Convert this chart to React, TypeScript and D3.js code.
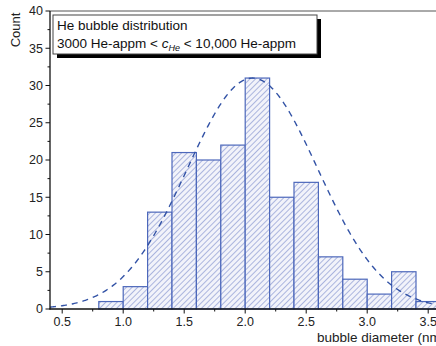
import React from "react";
import * as d3 from "d3";

// Histogram bins (left edge, nm) and counts
const binStarts = [0.8, 1.0, 1.2, 1.4, 1.6, 1.8, 2.0, 2.2, 2.4, 2.6, 2.8, 3.0, 3.2, 3.4];
const counts = [1, 3, 13, 21, 20, 22, 31, 15, 17, 7, 4, 2, 5, 1];
const binWidth = 0.2;

// Gaussian fit parameters
const fitCenter = 2.06;
const fitSigma = 0.535;
const fitAmplitude = 31.0;

const xTicks = [0.5, 1.0, 1.5, 2.0, 2.5, 3.0, 3.5];
const yTicks = [0, 5, 10, 15, 20, 25, 30, 35, 40];

const W = 436;
const H = 346;
const FONT = "'Liberation Sans', Arial, sans-serif";

export default function App() {
  const x = d3.scaleLinear().domain([0.4, 3.6]).range([50, 440.4]);
  const y = d3.scaleLinear().domain([0, 40]).range([309, 11]);

  const fitX = d3.range(0.4, 3.6001, 0.01);
  const gauss = (v: number) =>
    fitAmplitude * Math.exp(-((v - fitCenter) ** 2) / (2 * fitSigma * fitSigma));
  const line = d3
    .line<number>()
    .x((v) => x(v))
    .y((v) => y(gauss(v)))
    .curve(d3.curveLinear);

  const xMinor = d3.range(0.5, 3.6, 0.25);
  const yMinor = d3.range(0, 40.01, 2.5);

  return (
    <svg
      width={W}
      height={H}
      style={{ position: "absolute", left: 0, top: 0, background: "#fff" }}
    >
      <defs>
        <pattern
          id="hatch"
          patternUnits="userSpaceOnUse"
          width={4}
          height={4}
          patternTransform="rotate(45)"
        >
          <rect width={4} height={4} fill="#f2f3fa" />
          <line x1={0} y1={0} x2={0} y2={4} stroke="#8494cf" strokeWidth={1.3} />
        </pattern>
        <clipPath id="plotClip">
          <rect x={50} y={11} width={W - 50} height={298} />
        </clipPath>
      </defs>

      {/* bars */}
      <g>
        {binStarts.map((b, i) => (
          <rect
            key={i}
            x={x(b)}
            y={y(counts[i])}
            width={x(b + binWidth) - x(b)}
            height={y(0) - y(counts[i])}
            fill="url(#hatch)"
            stroke="#4d68bb"
            strokeWidth={1.2}
          />
        ))}
      </g>

      {/* fitted curve */}
      <path
        d={line(fitX) || ""}
        fill="none"
        stroke="#3353a6"
        strokeWidth={1.4}
        strokeDasharray="6,5"
        clipPath="url(#plotClip)"
      />

      {/* frame top */}
      <line x1={50} x2={W} y1={11} y2={11} stroke="#555" strokeWidth={1} />

      {/* left axis */}
      <line x1={50} x2={50} y1={11} y2={309.5} stroke="#111" strokeWidth={1.3} />
      {yMinor.map((v) => (
        <line
          key={"ym" + v}
          x1={50}
          x2={v % 5 === 0 ? 45.5 : 47.5}
          y1={y(v)}
          y2={y(v)}
          stroke="#111"
          strokeWidth={1}
        />
      ))}
      {yTicks.map((v) => (
        <text
          key={"yl" + v}
          x={43}
          y={y(v)}
          dy="0.35em"
          textAnchor="end"
          fontFamily={FONT}
          fontSize={12.5}
          fill="#222"
        >
          {v}
        </text>
      ))}

      {/* bottom axis */}
      <line x1={49.5} x2={W} y1={309} y2={309} stroke="#111" strokeWidth={1.3} />
      {xMinor.map((v) => (
        <line
          key={"xm" + v}
          x1={x(v)}
          x2={x(v)}
          y1={309}
          y2={Math.abs(v * 2 - Math.round(v * 2)) < 1e-6 ? 313.5 : 311.5}
          stroke="#111"
          strokeWidth={1}
        />
      ))}
      {xTicks.map((v) => (
        <text
          key={"xl" + v}
          x={x(v)}
          y={326}
          textAnchor="middle"
          fontFamily={FONT}
          fontSize={12.5}
          fill="#222"
        >
          {v.toFixed(1)}
        </text>
      ))}

      {/* axis titles */}
      <text x={317} y={341.5} fontFamily={FONT} fontSize={13.5} fill="#222">
        bubble diameter (nm)
      </text>
      <text
        transform="translate(20,30) rotate(-90)"
        textAnchor="middle"
        fontFamily={FONT}
        fontSize={13}
        fill="#222"
      >
        Count
      </text>

      {/* legend box with shadow */}
      <rect x={57} y={19} width={264} height={39} fill="#000" />
      <rect x={53} y={15} width={264} height={39} fill="#fff" stroke="#444" strokeWidth={1} />
      <text x={57} y={30} fontFamily={FONT} fontSize={13.5} fill="#111">
        He bubble distribution
      </text>
      <text x={57} y={48} fontFamily={FONT} fontSize={13.5} fill="#111">
        3000 He-appm &lt;{" "}
        <tspan fontStyle="italic">c</tspan>
        <tspan fontStyle="italic" fontSize={9} dy={3}>
          He
        </tspan>
        <tspan dy={-3}> &lt; 10,000 He-appm</tspan>
      </text>
    </svg>
  );
}
